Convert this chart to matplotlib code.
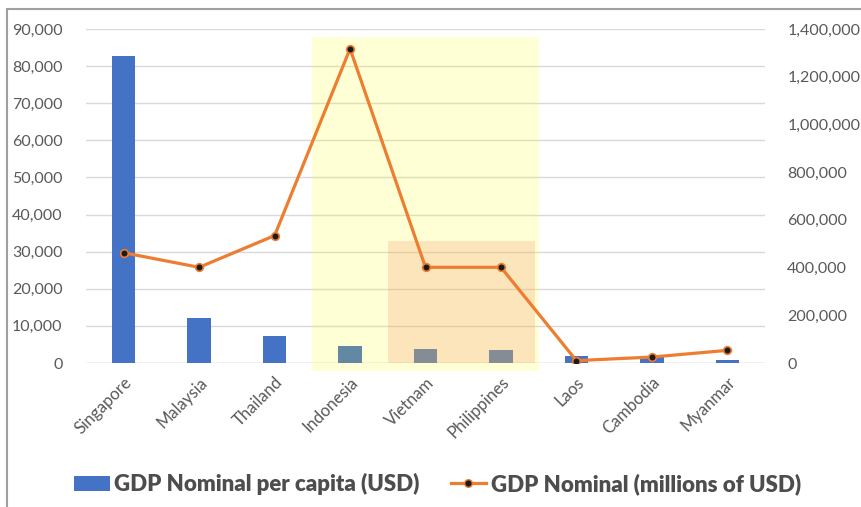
import matplotlib.pyplot as plt
from matplotlib.patches import Rectangle
from matplotlib.lines import Line2D
from matplotlib.ticker import FuncFormatter
import numpy as np

plt.rcParams['font.family'] = ['Lato', 'DejaVu Sans']

countries = ['Singapore', 'Malaysia', 'Thailand', 'Indonesia', 'Vietnam',
             'Philippines', 'Laos', 'Cambodia', 'Myanmar']
gdp_per_capita = [82800, 12100, 7400, 4700, 3700, 3500, 1900, 1500, 900]
gdp_nominal = [462000, 401000, 534000, 1317000, 401000, 401000, 10000, 25000, 53000]

grey = '#595959'
blue = '#4472c4'
orange = '#ed7d31'

fig = plt.figure(figsize=(8.61, 5.07), dpi=100)
ax = fig.add_axes([0.0999, 0.284, 0.7886, 0.659])
ax2 = ax.twinx()

x = np.arange(len(countries))
ax.bar(x, gdp_per_capita, width=0.31, color=blue, zorder=2)

# highlight boxes over the middle group
ax.add_patch(Rectangle((2.5, -2100), 3.0, 90000, facecolor='#ffff00', alpha=0.16,
                       edgecolor='none', zorder=3, clip_on=False))
ax.add_patch(Rectangle((3.5, 0), 1.95, 33000, facecolor='#f59a6a', alpha=0.25,
                       edgecolor='none', zorder=3, clip_on=False))

ax2.plot(x, gdp_nominal, color=orange, lw=2.3, marker='o', markersize=5.5,
         markerfacecolor='#1a1a1a', markeredgecolor=orange, markeredgewidth=1.2)

ax.set_xlim(-0.5, len(countries) - 0.5)
ax.set_ylim(0, 90000)
ax2.set_ylim(0, 1400000)
ax.set_yticks(np.arange(0, 90001, 10000))
ax2.set_yticks(np.arange(0, 1400001, 200000))
fmt = FuncFormatter(lambda v, p: f'{int(v):,}')
ax.yaxis.set_major_formatter(fmt)
ax2.yaxis.set_major_formatter(fmt)

ax.set_xticks(x)
ax.set_xticklabels(countries, rotation=45, ha='right', rotation_mode='anchor')
ax.yaxis.grid(True, color='#d9d9d9', lw=1, zorder=0)
ax.set_axisbelow(True)

for a in (ax, ax2):
    for s in a.spines.values():
        s.set_visible(False)
    a.tick_params(length=0, colors=grey, labelsize=11.5)
ax.tick_params(axis='x', labelsize=12, pad=8)
ax.tick_params(axis='y', pad=17)
ax2.tick_params(axis='y', pad=16)
ax.axhline(0, color='#d9d9d9', lw=1, zorder=1)

handles = [Rectangle((0, 0), 1, 1, facecolor=blue),
           Line2D([0], [0], color=orange, lw=2.3, marker='o', markersize=5.5,
                  markerfacecolor='#1a1a1a', markeredgecolor=orange)]
fig.legend(handles, ['GDP Nominal per capita (USD)', 'GDP Nominal (millions of USD)'],
           loc='center', bbox_to_anchor=(0.508, 0.045), ncol=2, frameon=False,
           prop={'size': 16, 'weight': 'heavy'}, labelcolor='#4d4d4d',
           handlelength=1.6, handletextpad=0.2, columnspacing=1.4)

# outer frame
fig.add_artist(Rectangle((7 / 861, -0.01), 1.0, 1 - 9 / 507 + 0.01, transform=fig.transFigure,
                         fill=False, edgecolor='#a0a0a0', lw=1.5))

fig.savefig('out.png', dpi=100)
